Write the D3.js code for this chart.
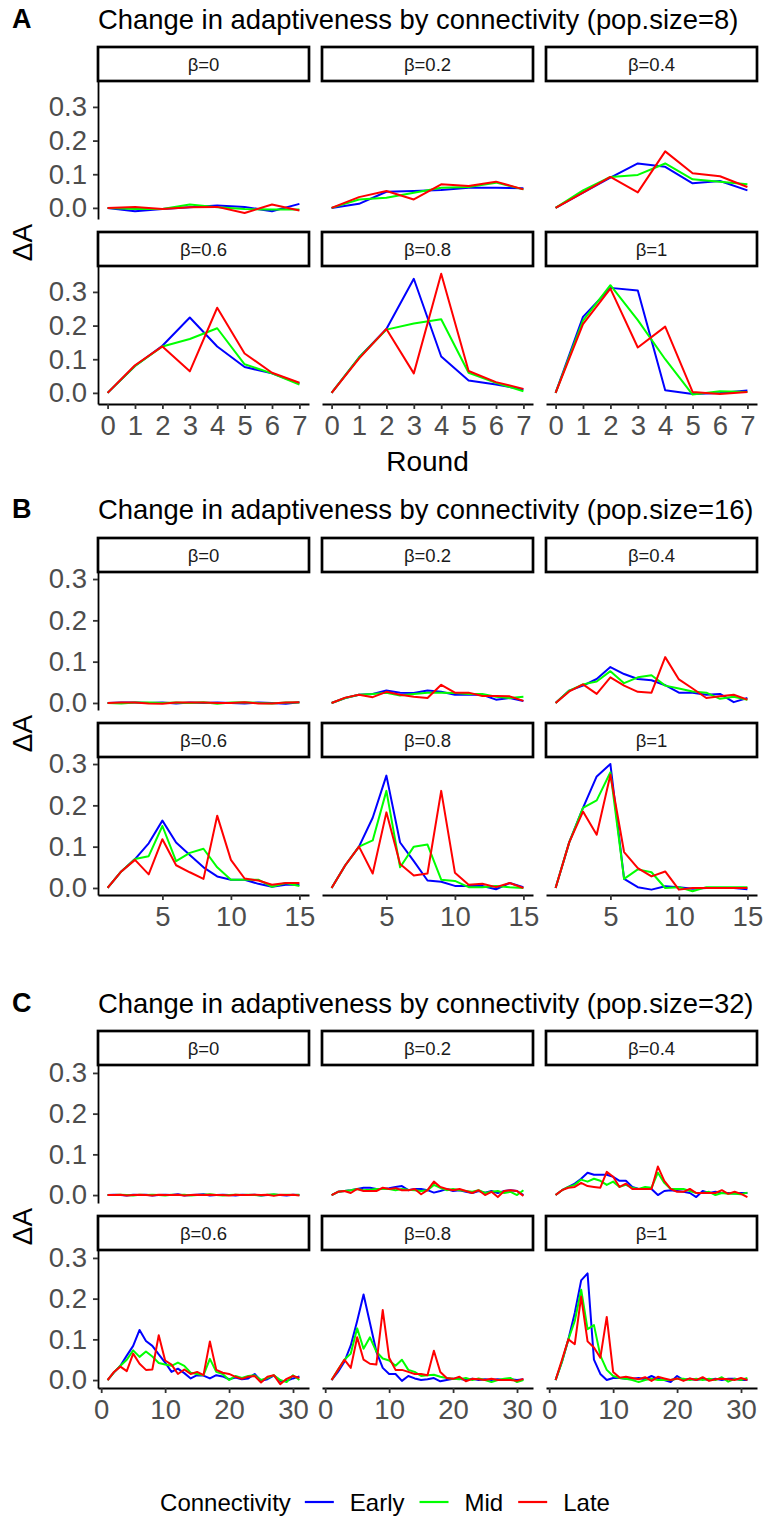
<!DOCTYPE html>
<html>
<head>
<meta charset="utf-8">
<script src="https://cdn.jsdelivr.net/npm/d3@7"></script>
<style>
  body { margin: 0; background: #fff; }
  svg { display: block; }
  text { font-family: "Liberation Sans", Arial, Helvetica, sans-serif; }
</style>
</head>
<body>
<svg id="chart" width="764" height="1517"></svg>
<script>
// ---- facets, groups, ticks ----
const facetLabels = ["β=0", "β=0.2", "β=0.4", "β=0.6", "β=0.8", "β=1"];
const connectivity = ["Early", "Mid", "Late"];
const lineColors = ["#0000FF", "#00FF00", "#FF0000"];

const roundsA = [0, 1, 2, 3, 4, 5, 6, 7];
const roundsB = [1, 2, 3, 4, 5, 6, 7, 8, 9, 10, 11, 12, 13, 14, 15];
const roundsC = [1, 2, 3, 4, 5, 6, 7, 8, 9, 10, 11, 12, 13, 14, 15, 16,
                 17, 18, 19, 20, 21, 22, 23, 24, 25, 26, 27, 28, 29, 30, 31];

const xTicksA = [0, 1, 2, 3, 4, 5, 6, 7];
const xTicksB = [5, 10, 15];
const xTicksC = [0, 10, 20, 30];
const yTicks = [0, 0.1, 0.2, 0.3];

// ---- change in adaptiveness, pop.size = 8 (one row per β) ----
const earlyA = [
  [0, -0.01, -0.003, 0.002, 0.007, 0.003, -0.01, 0.012],
  [0, 0.012, 0.048, 0.05, 0.053, 0.06, 0.06, 0.058],
  [0, 0.045, 0.09, 0.132, 0.122, 0.073, 0.08, 0.052],
  [0, 0.08, 0.14, 0.224, 0.138, 0.077, 0.058, 0.028],
  [0, 0.105, 0.19, 0.339, 0.108, 0.037, 0.025, 0.01],
  [0, 0.226, 0.312, 0.304, 0.008, -0.003, 0.0, 0.007]
];
const midA = [
  [0, -0.003, -0.003, 0.01, 0.002, -0.003, -0.005, -0.005],
  [0, 0.025, 0.03, 0.045, 0.06, 0.062, 0.075, 0.055],
  [0, 0.052, 0.092, 0.098, 0.132, 0.085, 0.078, 0.07],
  [0, 0.08, 0.138, 0.16, 0.192, 0.085, 0.058, 0.025],
  [0, 0.105, 0.188, 0.206, 0.219, 0.06, 0.03, 0.005],
  [0, 0.215, 0.32, 0.216, 0.1, -0.005, 0.005, 0.003]
];
const lateA = [
  [0, 0.003, -0.003, 0.002, 0.003, -0.015, 0.01, -0.008],
  [0, 0.032, 0.05, 0.025, 0.07, 0.065, 0.078, 0.055],
  [0, 0.045, 0.092, 0.046, 0.168, 0.103, 0.094, 0.062],
  [0, 0.082, 0.138, 0.064, 0.253, 0.117, 0.06, 0.03],
  [0, 0.102, 0.19, 0.058, 0.354, 0.065, 0.032, 0.012],
  [0, 0.204, 0.31, 0.135, 0.197, 0.003, -0.003, 0.003]
];

// ---- pop.size = 16 ----
const earlyB = [
  [0, 0.001, 0.001, 0, 0.001, -0.001, 0.001, 0, 0.001, 0, -0.001, 0.001, 0, -0.002, 0.002],
  [0, 0.012, 0.02, 0.022, 0.03, 0.025, 0.024, 0.03, 0.027, 0.02, 0.02, 0.02, 0.008, 0.012, 0.005],
  [0, 0.03, 0.042, 0.058, 0.087, 0.07, 0.058, 0.055, 0.043, 0.025, 0.025, 0.02, 0.022, 0.002, 0.012],
  [0, 0.04, 0.07, 0.108, 0.163, 0.11, 0.08, 0.05, 0.028, 0.02, 0.02, 0.01, 0.003, 0.008, 0.008],
  [0, 0.055, 0.1, 0.17, 0.272, 0.11, 0.065, 0.018, 0.015, 0.005, 0.005, 0.005, -0.003, 0.012, 0.002],
  [0, 0.111, 0.194, 0.27, 0.3, 0.022, 0.002, -0.004, 0.004, 0.002, -0.002, 0, 0, 0, -0.003]
];
const midB = [
  [0, -0.001, 0.001, 0.001, 0, 0.001, 0, 0.002, -0.002, 0.001, 0.002, 0, -0.001, 0.001, 0.001],
  [0, 0.012, 0.02, 0.022, 0.025, 0.018, 0.022, 0.025, 0.025, 0.024, 0.022, 0.022, 0.015, 0.012, 0.015],
  [0, 0.03, 0.045, 0.052, 0.077, 0.048, 0.062, 0.067, 0.042, 0.035, 0.028, 0.025, 0.01, 0.015, 0.008],
  [0, 0.04, 0.07, 0.077, 0.15, 0.065, 0.085, 0.095, 0.05, 0.02, 0.02, 0.02, 0.003, 0.012, 0.005],
  [0, 0.055, 0.1, 0.115, 0.235, 0.05, 0.1, 0.105, 0.02, 0.017, 0.002, 0.002, 0.005, 0.002, 0],
  [0, 0.111, 0.194, 0.212, 0.28, 0.022, 0.045, 0.038, 0, 0.002, -0.008, 0.002, 0.002, 0.002, 0.002]
];
const lateB = [
  [0, 0.001, 0.001, -0.001, -0.002, 0.001, 0.001, 0.001, 0, 0, 0.002, -0.001, -0.001, 0.001, 0.002],
  [0, 0.013, 0.02, 0.014, 0.027, 0.02, 0.015, 0.012, 0.044, 0.025, 0.025, 0.017, 0.017, 0.016, 0.005],
  [0, 0.028, 0.045, 0.022, 0.062, 0.042, 0.027, 0.025, 0.111, 0.057, 0.035, 0.012, 0.016, 0.02, 0.008],
  [0, 0.04, 0.068, 0.033, 0.118, 0.055, 0.038, 0.022, 0.175, 0.068, 0.023, 0.018, 0.008, 0.012, 0.012],
  [0, 0.055, 0.1, 0.035, 0.183, 0.058, 0.03, 0.035, 0.235, 0.037, 0.008, 0.01, 0.002, 0.012, 0],
  [0, 0.111, 0.185, 0.129, 0.274, 0.087, 0.048, 0.028, 0.04, -0.004, 0, 0, 0, 0, 0]
];

// ---- pop.size = 32 ----
const earlyC = [
  [0, 0.001, 0, -0.001, 0.001, 0, 0.001, -0.001, 0, 0.001, 0, 0.002, -0.001, 0, 0.001, 0.002,
   -0.001, 0, 0.001, 0, -0.001, 0.001, 0, 0.001, -0.001, 0, 0.001, 0, -0.001, 0.001, 0],
  [0, 0.008, 0.01, 0.012, 0.015, 0.018, 0.018, 0.015, 0.015, 0.017, 0.02, 0.022, 0.012, 0.015, 0.015, 0.012,
   0.006, 0.01, 0.015, 0.01, 0.012, 0.008, 0.005, 0.01, 0.006, 0.01, 0.005, 0.01, 0.012, 0.01, 0],
  [0, 0.012, 0.02, 0.028, 0.04, 0.055, 0.05, 0.05, 0.05, 0.045, 0.035, 0.035, 0.02, 0.015, 0.015, 0.015,
   0, 0.01, 0.012, 0.01, 0.008, 0.005, -0.005, 0.01, 0.005, 0.008, 0.005, 0.005, 0.004, 0.005, 0.005],
  [0, 0.019, 0.035, 0.06, 0.084, 0.123, 0.096, 0.084, 0.063, 0.043, 0.02, 0.028, 0.017, 0.004, 0.012, 0.011,
   0.004, 0.012, 0.009, 0.002, 0.006, 0.002, 0.004, 0.015, -0.002, 0.002, 0.011, -0.002, -0.002, 0.004, 0.009],
  [0, 0.02, 0.045, 0.085, 0.145, 0.21, 0.14, 0.07, 0.03, 0.015, 0.015, -0.002, 0.01, 0.004, 0, 0.002,
   0.005, -0.003, 0, 0.003, 0.003, 0, 0.003, 0, 0.002, 0, 0.002, 0, 0.002, 0, 0.002],
  [0, 0.045, 0.1, 0.165, 0.245, 0.262, 0.05, 0.015, 0, 0.005, 0.005, 0.003, 0.003, 0.005, 0.002, 0.01,
   0.003, 0, -0.005, 0.01, 0, 0.003, 0, 0.003, 0, 0.003, 0, 0.003, 0.003, 0, 0]
];
const midC = [
  [0, 0, 0.001, 0, -0.001, 0.001, 0, 0.001, 0, -0.001, 0.001, 0, 0.001, -0.001, 0, 0.001,
   0.002, 0, -0.001, 0, 0.001, 0, 0.001, 0, -0.001, 0.001, 0.002, 0, 0.001, 0, 0.001],
  [0, 0.008, 0.01, 0.012, 0.015, 0.012, 0.013, 0.015, 0.015, 0.015, 0.012, 0.015, 0.013, 0.012, 0.01, 0.012,
   0.025, 0.018, 0.012, 0.015, 0.012, 0.01, 0.008, 0.012, 0.005, 0.008, 0.01, 0.005, 0.008, 0, 0.012],
  [0, 0.012, 0.02, 0.025, 0.038, 0.033, 0.04, 0.035, 0.025, 0.033, 0.02, 0.025, 0.018, 0.015, 0.02, 0.018,
   0.055, 0.03, 0.015, 0.015, 0.015, 0.01, 0.005, 0.005, 0.008, 0, 0.005, 0.003, 0.003, 0.002, 0.006],
  [0, 0.019, 0.035, 0.05, 0.073, 0.057, 0.07, 0.058, 0.042, 0.038, 0.035, 0.043, 0.035, 0.018, 0.015, 0.012,
   0.052, 0.02, 0.015, 0, 0.01, 0.005, 0.01, 0.012, 0, 0.005, 0.012, 0, -0.005, 0.012, 0],
  [0, 0.025, 0.05, 0.065, 0.127, 0.077, 0.105, 0.07, 0.053, 0.048, 0.035, 0.05, 0.025, 0.02, 0.01, 0.012,
   0.013, 0.008, 0.005, 0.003, 0.002, 0.005, 0, 0.004, 0, -0.005, 0, 0.003, 0.005, -0.005, 0],
  [0, 0.045, 0.1, 0.145, 0.222, 0.125, 0.135, 0.06, 0.025, 0.01, 0.005, 0.003, 0, -0.005, 0, 0.003,
   0, 0, 0, 0.003, 0.003, 0, 0.003, 0, 0.003, 0, 0.007, -0.004, 0.003, 0, 0.005]
];
const lateC = [
  [0, 0, 0.001, -0.001, 0, 0.001, 0, -0.001, 0.001, 0, 0, 0.001, -0.001, 0, 0.001, 0,
   0.001, 0, 0, -0.001, 0.001, 0, 0, 0.001, 0, 0.001, -0.002, 0.001, 0, 0.001, -0.001],
  [0, 0.008, 0.01, 0.005, 0.015, 0.01, 0.01, 0.01, 0.018, 0.015, 0.017, 0.012, 0.012, 0.015, 0.002, 0.012,
   0.033, 0.02, 0.015, 0.012, 0.015, 0.01, 0.005, 0.012, 0, 0.008, -0.005, 0.01, 0.012, 0.01, -0.002],
  [0, 0.012, 0.018, 0.02, 0.03, 0.022, 0.02, 0.018, 0.057, 0.045, 0.02, 0.028, 0.015, 0.015, 0.015, 0.015,
   0.07, 0.035, 0.015, 0.008, 0.008, 0.015, 0.005, 0.005, 0.005, 0.005, 0.012, 0.003, 0.008, 0.003, -0.005],
  [0, 0.02, 0.033, 0.022, 0.065, 0.04, 0.025, 0.026, 0.11, 0.048, 0.038, 0.015, 0.026, 0.015, 0.02, 0.012,
   0.095, 0.025, 0.018, 0.015, 0.008, 0.003, 0.008, 0.01, -0.006, 0.008, 0.012, -0.01, 0.003, 0.01, 0.005],
  [0, 0.025, 0.05, 0.03, 0.105, 0.05, 0.04, 0.038, 0.172, 0.055, 0.025, 0.025, 0.02, 0.015, 0.015, 0.012,
   0.072, 0.02, 0.005, 0.003, 0.008, -0.003, 0.003, 0.002, 0, 0.003, 0, 0, 0, -0.002, 0.003],
  [0, 0.05, 0.1, 0.088, 0.205, 0.095, 0.08, 0.055, 0.155, 0.02, 0.006, 0.008, 0.005, 0.002, 0.007, -0.002,
   0.008, 0.004, 0, 0.004, -0.002, 0.004, 0, 0.007, -0.002, 0.002, 0.003, 0.002, 0, 0.005, 0]
];

// ---- figure blocks ----
const blocks = [
  { tag: "A", title: "Change in adaptiveness by connectivity (pop.size=8)",
    rounds: roundsA, xTicks: xTicksA, series: [earlyA, midA, lateA],
    xDomain: [-0.35, 7.35], yDomain: [-0.033, 0.377],
    titleY: 19, panelTop: 81, xTitle: "Round" },
  { tag: "B", title: "Change in adaptiveness by connectivity (pop.size=16)",
    rounds: roundsB, xTicks: xTicksB, series: [earlyB, midB, lateB],
    xDomain: [0.3, 15.7], yDomain: [-0.017, 0.317],
    titleY: 509, panelTop: 572, xTitle: null },
  { tag: "C", title: "Change in adaptiveness by connectivity (pop.size=32)",
    rounds: roundsC, xTicks: xTicksC, series: [earlyC, midC, lateC],
    xDomain: [-0.5, 32.5], yDomain: [-0.0195, 0.3195],
    titleY: 1003, panelTop: 1065, xTitle: null }
];

// ---- layout ----
const colX = [98, 322, 546];
const panelW = 211;
const panelH = 138;
const stripH = 34;
const rowStep = panelH + 13 + stripH;

const svg = d3.select("#chart");

function drawBlock(b) {
  const g = svg.append("g");
  const x = d3.scaleLinear().domain(b.xDomain).range([0, panelW]);
  const y = d3.scaleLinear().domain(b.yDomain).range([panelH, 0]);
  const line = d3.line()
    .x((d, i) => x(b.rounds[i]))
    .y(d => y(d))
    .curve(d3.curveLinear);

  g.append("text")
    .attr("x", 12).attr("y", b.titleY)
    .attr("dominant-baseline", "central")
    .attr("font-size", 27).attr("font-weight", "bold")
    .text(b.tag);
  g.append("text")
    .attr("x", colX[0]).attr("y", b.titleY)
    .attr("dominant-baseline", "central")
    .attr("font-size", 27.4)
    .text(b.title);

  facetLabels.forEach((lab, k) => {
    const col = k % 3, row = Math.floor(k / 3);
    const px = colX[col], py = b.panelTop + row * rowStep;

    // strip
    g.append("rect")
      .attr("x", px).attr("y", py - stripH)
      .attr("width", panelW).attr("height", stripH)
      .attr("fill", "#fff").attr("stroke", "#000").attr("stroke-width", 2.7);
    g.append("text")
      .attr("x", px + panelW / 2).attr("y", py - stripH / 2)
      .attr("text-anchor", "middle").attr("dominant-baseline", "central")
      .attr("font-size", 18.5).attr("fill", "#1a1a1a")
      .text(lab);

    const pg = g.append("g").attr("transform", `translate(${px},${py})`);

    // series lines: Early, Mid, Late
    b.series.forEach((s, si) => {
      pg.append("path")
        .datum(s[k])
        .attr("d", line)
        .attr("fill", "none")
        .attr("stroke", lineColors[si])
        .attr("stroke-width", 2)
        .attr("stroke-linejoin", "round");
    });

    if (col === 0) {
      const ay = pg.append("g")
        .call(d3.axisLeft(y).tickValues(yTicks).tickFormat(d3.format(".1f"))
          .tickSize(5).tickSizeOuter(0).tickPadding(6));
      styleAxis(ay);
    }
    if (row === 1) {
      const ax = pg.append("g")
        .attr("transform", `translate(0,${panelH})`)
        .call(d3.axisBottom(x).tickValues(b.xTicks).tickFormat(d3.format("d"))
          .tickSize(5).tickSizeOuter(0).tickPadding(6));
      styleAxis(ax);
    }
  });

  // y-axis title centred on the panel area
  const yMid = (b.panelTop + b.panelTop + rowStep + panelH) / 2;
  g.append("text")
    .attr("transform", `translate(22,${yMid}) rotate(-90)`)
    .attr("text-anchor", "middle").attr("dominant-baseline", "central")
    .attr("font-size", 28)
    .text("ΔA");

  if (b.xTitle) {
    g.append("text")
      .attr("x", (colX[0] + colX[2] + panelW) / 2)
      .attr("y", b.panelTop + rowStep + panelH + 57)
      .attr("text-anchor", "middle").attr("dominant-baseline", "central")
      .attr("font-size", 28)
      .text(b.xTitle);
  }
}

function styleAxis(sel) {
  sel.select(".domain").attr("stroke", "#000").attr("stroke-width", 1.8);
  sel.selectAll(".tick line").attr("stroke", "#333").attr("stroke-width", 1.8);
  sel.selectAll(".tick text")
    .attr("font-size", 27.5)
    .attr("fill", "#4D4D4D")
    .attr("font-family", '"Liberation Sans", Arial, sans-serif');
}

blocks.forEach(drawBlock);

// ---- legend ----
const leg = svg.append("g");
const legY = 1502;
const legTitle = leg.append("text")
  .attr("x", 0).attr("y", legY)
  .attr("dominant-baseline", "central")
  .attr("font-size", 24)
  .text("Connectivity");
let cx = legTitle.node().getComputedTextLength() + 14;
connectivity.forEach((name, i) => {
  leg.append("line")
    .attr("x1", cx).attr("x2", cx + 29)
    .attr("y1", legY).attr("y2", legY)
    .attr("stroke", lineColors[i]).attr("stroke-width", 2.2);
  cx += 29 + 16;
  const t = leg.append("text")
    .attr("x", cx).attr("y", legY)
    .attr("dominant-baseline", "central")
    .attr("font-size", 24)
    .text(name);
  cx += t.node().getComputedTextLength() + 15;
});
const legW = cx - 15;
leg.attr("transform", `translate(${385 - legW / 2},0)`);
</script>
</body>
</html>
